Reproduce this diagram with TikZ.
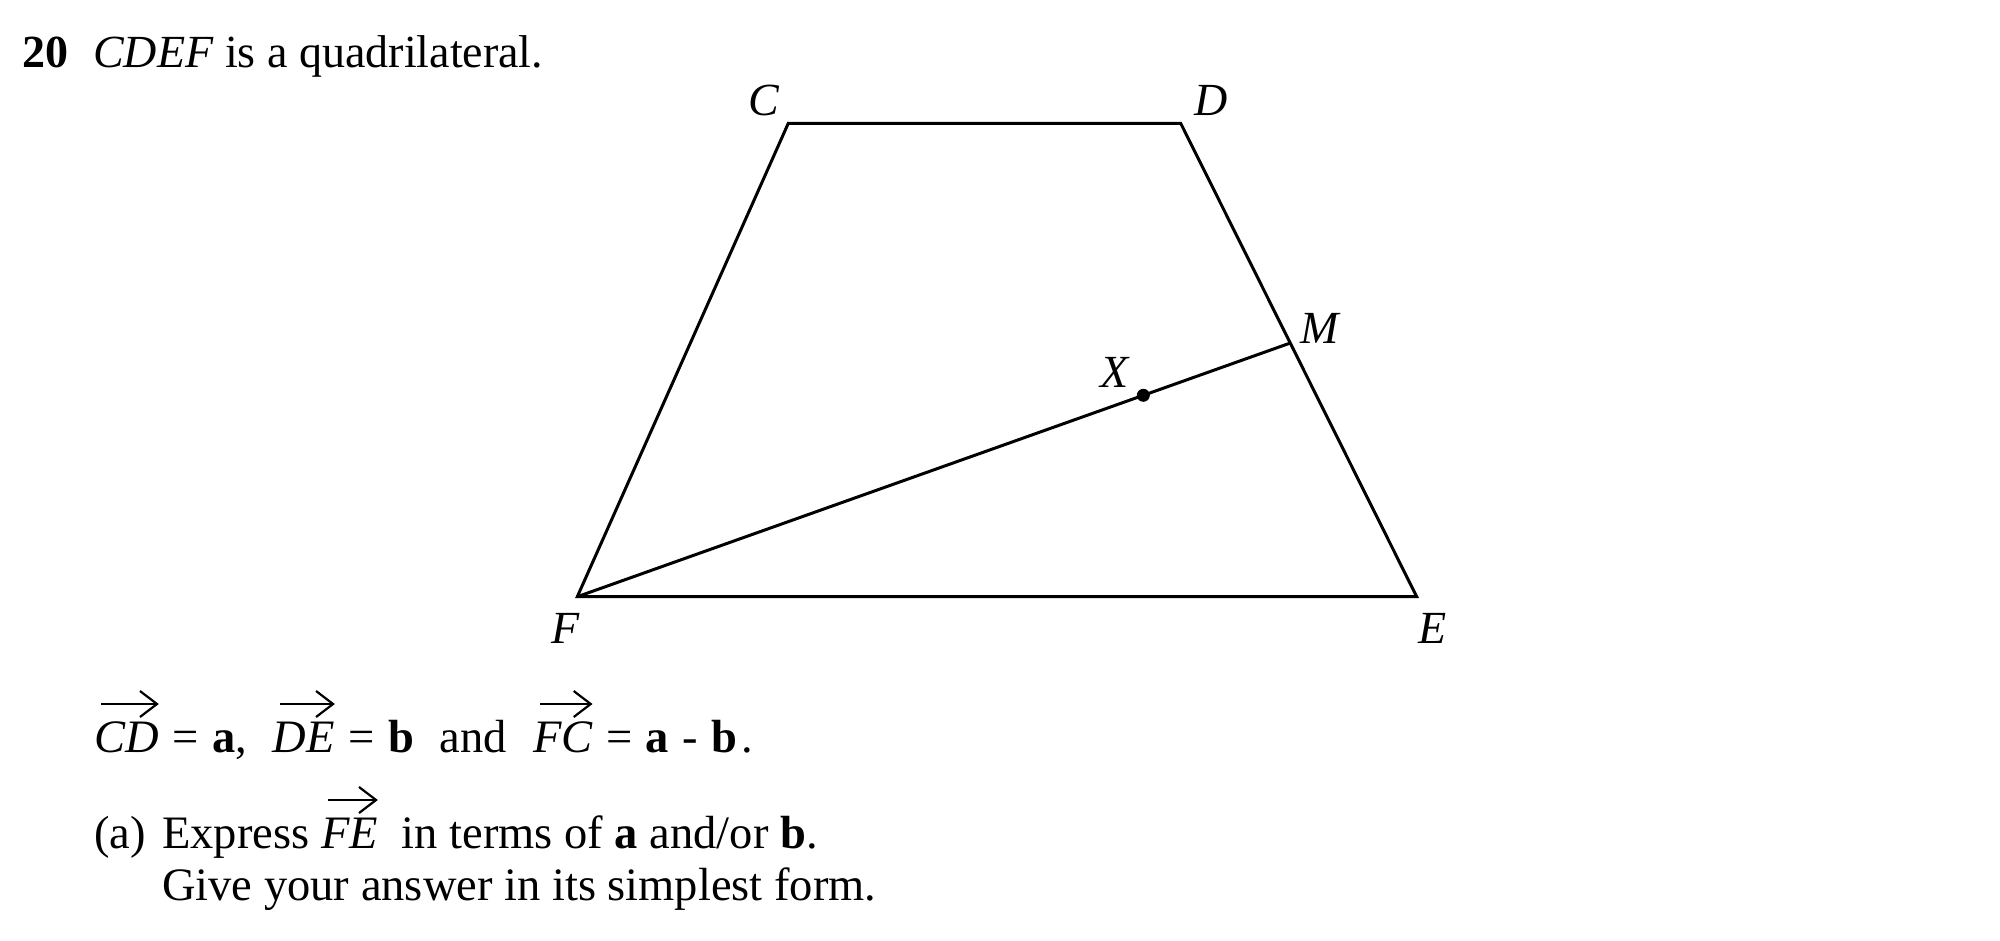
\RequirePackage{fix-cm}
\documentclass[tikz,border=0pt]{standalone}
\usepackage{fontspec}
\usetikzlibrary{arrows.meta}
\setmainfont{Liberation Serif}
\newsavebox{\vecbox}
\newcommand{\vecab}[1]{\sbox{\vecbox}{\itshape #1}\rlap{\tikz[overlay, x=1pt, y=1pt, baseline=0pt]\draw[line width=2.2pt, -{Straight Barb[length=17pt,width=26pt,line width=2.2pt]}] (7pt,48pt) -- (\the\wd\vecbox,48pt);}\usebox{\vecbox}}
\newcommand{\bigfnt}{\fontsize{46}{52}\selectfont}
\newcommand{\bodyfnt}{\fontsize{46.5}{52}\selectfont}
\begin{document}
\begin{tikzpicture}[x=1pt,y=-1pt,
  txt/.style={anchor=base west, inner sep=0pt, font=\bodyfnt},
  lbl/.style={anchor=base, inner sep=0pt, font=\bigfnt\itshape},
  edge/.style={line width=3pt, line join=miter}]
\useasboundingbox[fill=white] (0,0) rectangle (2000,940);
% vertices
\coordinate (C) at (788.3,123.3);
\coordinate (D) at (1180.7,123.3);
\coordinate (E) at (1416.7,596.7);
\coordinate (F) at (577.3,596.7);
\coordinate (M) at (1289.5,343.3);
\coordinate (X) at (1143.3,395.3);
% shape
\draw[edge] (C) -- (D) -- (E) -- (F) -- cycle;
\draw[edge] (F) -- (M);
\fill (X) circle (6.5);
% labels
\node[lbl] (lC) at (764,115) {C};
\node[lbl] (lD) at (1211,115) {D};
\node[lbl] (lE) at (1433,643) {E};
\node[lbl] (lF) at (566,643) {F};
\node[lbl] (lM) at (1320,343) {M};
\node[lbl] (lX) at (1115,387) {X};
% text
\node[txt, font=\bigfnt\bfseries] (num) at (22,67) {20};
\node[txt, font=\bigfnt] (t1) at (93,67) {\textit{CDEF} is a quadrilateral.};
\node[txt] (t2) at (94,752) {\spaceskip=13.5pt\vecab{CD} = \textbf{a},\hspace{26pt}\vecab{DE} = \textbf{b}\hspace{26pt}and\hspace{26pt}\vecab{FC} = \textbf{a} - \textbf{b}\kern4pt.};
\node[txt] (pa) at (94,848) {(a)};
\node[txt] (t3) at (162,848) {Express \vecab{FE}\hspace{24pt}in terms of \textbf{a} and/or \textbf{b}.};
\node[txt] (t4) at (162,900) {Give your answer in its simplest form.};
\end{tikzpicture}
\end{document}
